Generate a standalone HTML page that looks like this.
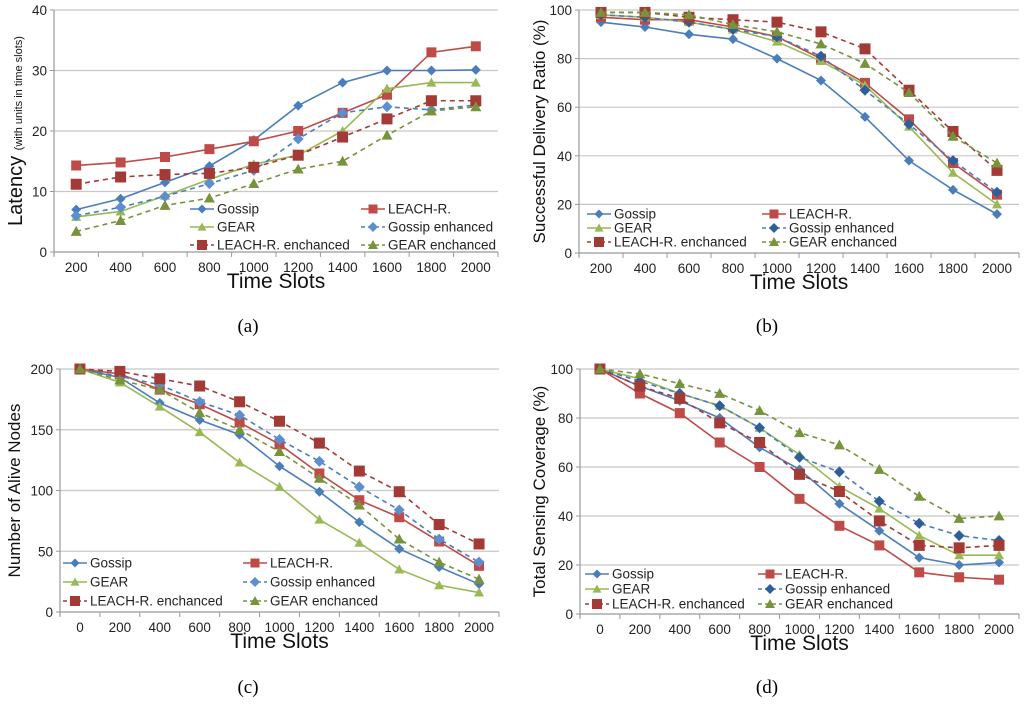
<!DOCTYPE html>
<html><head><meta charset="utf-8">
<style>
html,body{margin:0;padding:0;background:#fff;}
svg{display:block;font-family:"Liberation Sans",sans-serif;}
</style></head>
<body>
<svg id="fig" width="1024" height="704" viewBox="0 0 1024 704" xmlns="http://www.w3.org/2000/svg"></svg>
<script>
// ---- shared series names ----
const seriesNames = ["Gossip","LEACH-R.","GEAR","Gossip enhanced","LEACH-R. enchanced","GEAR enchanced"];

// ---- chart (a): latency ----
const catsA = ["200","400","600","800","1000","1200","1400","1600","1800","2000"];
const ticksA = [0,10,20,30,40];
const gossipA = [7,8.8,11.5,14.2,18.5,24.2,28,30,30,30.1];
const leachA = [14.3,14.8,15.7,17,18.3,20,23,26,33,34];
const gearA = [5.8,6.7,9.3,12,14.5,16,20,27,28,28];
const gossipEnhA = [6,7.4,9.2,11.3,13.5,18.7,23,24,23.5,24.3];
const leachEnhA = [11.2,12.4,12.8,13,14,16,19,22,25,25];
const gearEnhA = [3.4,5.2,7.7,8.9,11.3,13.7,15,19.3,23.3,24];

// ---- chart (b): delivery ratio ----
const catsB = ["200","400","600","800","1000","1200","1400","1600","1800","2000"];
const ticksB = [0,20,40,60,80,100];
const gossipB = [95,93,90,88,80,71,56,38,26,16];
const leachB = [97,96,96,93,89,80,70,55,37,24];
const gearB = [98,97,95,92,87,79,69,52,33,20];
const gossipEnhB = [98,97,95,92,89,81,67,53,38,25];
const leachEnhB = [99,99,97,96,95,91,84,67,50,34];
const gearEnhB = [99,99,98,94,91,86,78,66,48,37];

// ---- chart (c): alive nodes ----
const catsC = ["0","200","400","600","800","1000","1200","1400","1600","1800","2000"];
const ticksC = [0,50,100,150,200];
const gossipC = [200,193,172,158,146,120,99,74,52,37,23];
const leachC = [200,196,183,171,156,138,114,92,78,58,38];
const gearC = [200,189,169,148,123,103,76,57,35,22,16];
const gossipEnhC = [200,194,187,173,162,142,124,103,84,60,41];
const leachEnhC = [200,198,192,186,173,157,139,116,99,72,56];
const gearEnhC = [200,191,183,164,150,132,110,88,60,41,27];

// ---- chart (d): sensing coverage ----
const catsD = ["0","200","400","600","800","1000","1200","1400","1600","1800","2000"];
const ticksD = [0,20,40,60,80,100];
const gossipD = [100,93,87,80,68,59,45,34,23,20,21];
const leachD = [100,90,82,70,60,47,36,28,17,15,14];
const gearD = [100,96,90,85,76,65,52,43,32,24,24];
const gossipEnhD = [100,95,90,85,76,64,58,46,37,32,30];
const leachEnhD = [100,93,88,78,70,57,50,38,28,27,28];
const gearEnhD = [100,98,94,90,83,74,69,59,48,39,40];

const NS="http://www.w3.org/2000/svg";
const svg=document.getElementById('fig');
function mk(tag,attrs,parent){const e=document.createElementNS(NS,tag);for(const k in attrs)e.setAttribute(k,attrs[k]);(parent||svg).appendChild(e);return e;}

function getStyles(enhBlue){
 return [
 {color:"#4a7ebb",dash:"",marker:"diamond",mc:"#4a7ebb",ms:5},
 {color:"#be4b48",dash:"",marker:"square",mc:"#be4b48",ms:5},
 {color:"#98b954",dash:"",marker:"triangle",mc:"#98b954",ms:5},
 {color:"#4a7ebb",dash:"5,4",marker:"diamond",mc:enhBlue,ms:5.5},
 {color:"#a33a36",dash:"5,4",marker:"square",mc:"#a33a36",ms:5.5},
 {color:"#77933c",dash:"5,4",marker:"triangle",mc:"#77933c",ms:5.5}
 ];
}

function marker(g,type,x,y,s,c){
  if(type==="diamond") return mk('polygon',{points:`${x},${y-s} ${x+s},${y} ${x},${y+s} ${x-s},${y}`,fill:c},g);
  if(type==="square") return mk('rect',{x:x-s,y:y-s,width:2*s,height:2*s,fill:c},g);
  return mk('polygon',{points:`${x},${y-s} ${x+s},${y+s*0.8} ${x-s},${y+s*0.8}`,fill:c},g);
}

function drawChart(cfg){
  const styles=getStyles(cfg.enhBlue);
  const g=mk('g',{});
  
  
  const {x0,x1,yTop,yBot,ymax,cats,ticks,series}=cfg;
  const n=cats.length, cw=(x1-x0)/n;
  const xs=i=>x0+cw*(i+0.5);
  const ys=v=>yBot-(v/ymax)*(yBot-yTop);
  ticks.forEach(t=>{
    if(t>0){const l=mk('line',{x1:x0,x2:x1,y1:ys(t),y2:ys(t),stroke:"#c8c8c8","stroke-width":1.2},g);
      }
    const tl=mk('text',{x:x0-7,y:ys(t)+5,"text-anchor":"end","font-size":13.5,fill:"#222"},g);
    tl.textContent=t;
    
    mk('line',{x1:x0-4,x2:x0,y1:ys(t),y2:ys(t),stroke:"#999"},g);
  });
  const ax=mk('line',{x1:x0,x2:x0,y1:yTop,y2:yBot+4,stroke:"#999","stroke-width":1.2},g);
  
  const bx=mk('line',{x1:x0,x2:x1,y1:yBot,y2:yBot,stroke:"#999","stroke-width":1.2},g);
  
  for(let i=0;i<=n;i++) mk('line',{x1:x0+cw*i,x2:x0+cw*i,y1:yBot,y2:yBot+5,stroke:"#999"},g);
  cats.forEach((c,i)=>{
    const t=mk('text',{x:xs(i),y:yBot+20,"text-anchor":"middle","font-size":13.5,fill:"#222"},g);
    t.textContent=c;
    
  });
  const xt=mk('text',{x:(x0+x1)/2,y:yBot+36,"text-anchor":"middle","font-size":21,fill:"#111"},g);
  xt.textContent="Time Slots";
  
  const yt=mk('text',{x:0,y:0,"text-anchor":"middle","font-size":cfg.ytSize,fill:"#111",transform:`translate(${cfg.ytX},${(yTop+yBot)/2}) rotate(-90)`},g);
  yt.innerHTML=cfg.ytitle;
  
  series.forEach((vals,si)=>{
    const st=styles[si];
    const sg=mk('g',{},g);
    
    
    const pts=vals.map((v,i)=>xs(i)+","+ys(v)).join(" ");
    mk('polyline',{points:pts,fill:"none",stroke:st.color,"stroke-width":1.6,"stroke-dasharray":st.dash},sg);
    vals.forEach((v,i)=>{const m=marker(sg,st.marker,xs(i),ys(v),st.ms,st.mc);
      });
  });
  const lg=mk('g',{},g);
  
  seriesNames.forEach((nm,si)=>{
    const st=styles[si];
    const col=si%2, row=Math.floor(si/2);
    const lx=col?cfg.legX2:cfg.legX1, ly=cfg.legY[row];
    const e=mk('g',{},lg);
    
    mk('line',{x1:lx,x2:lx+24,y1:ly,y2:ly,stroke:st.color,"stroke-width":1.6,"stroke-dasharray":st.dash?"4,3":""},e);
    marker(e,st.marker,lx+12,ly,st.ms-0.5,st.mc);
    const t=mk('text',{x:lx+27,y:ly+4.5,"font-size":13.5,fill:"#222"},e);
    t.textContent=nm;
  });
}

drawChart({name:"chart-a-latency",x0:54,x1:498,yTop:10,yBot:252,ymax:40,cats:catsA,ticks:ticksA,
  series:[gossipA,leachA,gearA,gossipEnhA,leachEnhA,gearEnhA],enhBlue:"#5b8fd0",
  ytitle:'Latency <tspan font-size="11">(with units in time slots)</tspan>',ytSize:20,ytX:22,
  legX1:190,legX2:361,legY:[209,227,245]});
drawChart({name:"chart-b-delivery-ratio",x0:579,x1:1019,yTop:10,yBot:253,ymax:100,cats:catsB,ticks:ticksB,
  series:[gossipB,leachB,gearB,gossipEnhB,leachEnhB,gearEnhB],enhBlue:"#2f5f98",
  ytitle:'Successful Delivery Ratio (%)',ytSize:17,ytX:545,
  legX1:587,legX2:762,legY:[214,228,242]});
drawChart({name:"chart-c-alive-nodes",x0:60,x1:499,yTop:369,yBot:612,ymax:200,cats:catsC,ticks:ticksC,
  series:[gossipC,leachC,gearC,gossipEnhC,leachEnhC,gearEnhC],enhBlue:"#5b8fd0",
  ytitle:'Number of Alive Nodes',ytSize:17,ytX:20,
  legX1:63,legX2:243,legY:[563,582,601]});
drawChart({name:"chart-d-sensing-coverage",x0:580,x1:1019,yTop:369,yBot:614,ymax:100,cats:catsD,ticks:ticksD,
  series:[gossipD,leachD,gearD,gossipEnhD,leachEnhD,gearEnhD],enhBlue:"#2f5f98",
  ytitle:'Total Sensing Coverage (%)',ytSize:17,ytX:545,
  legX1:585,legX2:758,legY:[574,589,604]});

[["(a)",248,332],["(b)",767,332],["(c)",248,693],["(d)",767,693]].forEach(c=>{
  const t=mk('text',{x:c[1],y:c[2],"text-anchor":"middle","font-size":19,"font-family":"Liberation Serif, serif",fill:"#000"});
  t.textContent=c[0];
  
  
});
</script>
</body></html>
